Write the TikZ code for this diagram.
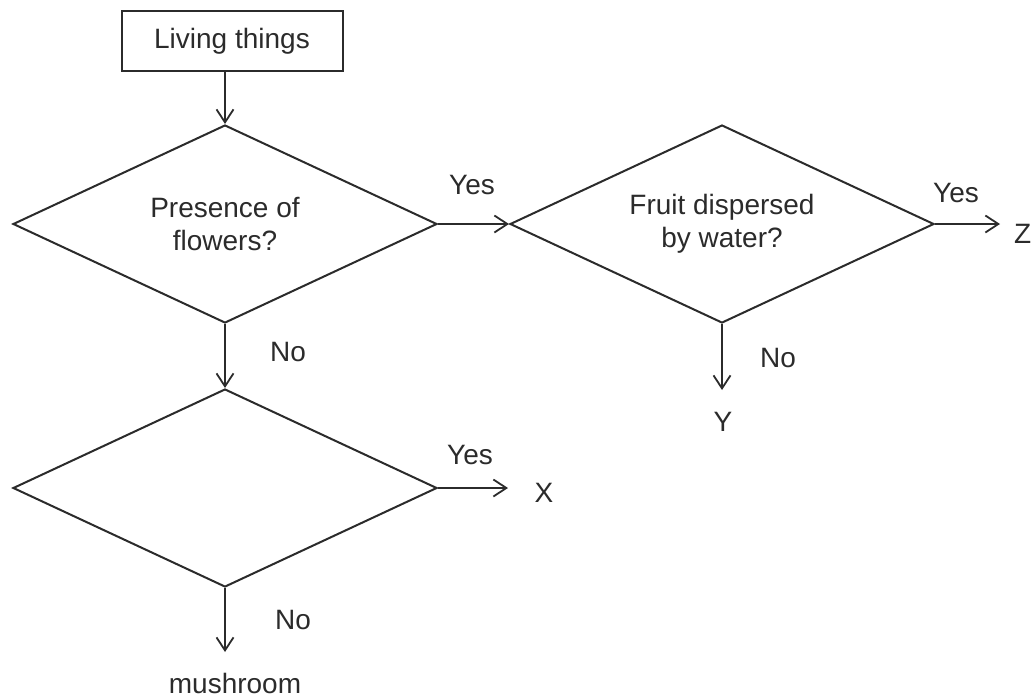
\documentclass[tikz,border=0pt]{standalone}
\usepackage{fontspec}
\setmainfont{Liberation Sans}
\usetikzlibrary{shapes.geometric,arrows.meta}
\definecolor{ink}{HTML}{2B2B2B}

\begin{document}
\begin{tikzpicture}[x=1pt, y=-1pt,
    every node/.style={font=\fontsize{28}{33}\selectfont, text=ink},
    start/.style={draw=ink, line width=2pt, minimum width=221pt, minimum height=60pt, inner sep=0pt},
    decision/.style={diamond, draw=ink, line width=2pt, aspect=2.14, minimum width=424pt, minimum height=198pt, inner sep=0pt, align=center},
    flow/.style={draw=ink, line width=1.8pt, -{Straight Barb[length=13pt,width=17pt]}}]
      \useasboundingbox (0,0) rectangle (1035,699);
      \node[start] (living) at (232,41) {Living things};
      \node[decision] (flowers) at (225,224) {Presence of\\flowers?};
      \node[decision] (water) at (722,224) {Fruit dispersed\\by water?};
      \node[decision] (third) at (225,488) {};
      \coordinate (toZ) at (1000,224);
      \coordinate (toY) at (722,390);
      \coordinate (toX) at (508,488);
      \coordinate (toMush) at (225,652);
      \draw[flow] (living.south -| flowers.north) -- (flowers.north);
      \draw[flow] (flowers.east) -- (water.west);
      \draw[flow] (water.east) -- (toZ);
      \draw[flow] (water.south) -- (toY);
      \draw[flow] (flowers.south) -- (third.north);
      \draw[flow] (third.east) -- (toX);
      \draw[flow] (third.south) -- (toMush);
      \node (yes1) at (472,185) {Yes};
      \node (yes2) at (956,193) {Yes};
      \node (no1)  at (288,352) {No};
      \node (no2)  at (778,358) {No};
      \node (yes3) at (470,455) {Yes};
      \node (no3)  at (293,620) {No};
      \node[anchor=west, inner sep=0pt] (zend) at (1014,234) {Z};
      \node (yend) at (723,422) {Y};
      \node (xend) at (544,493) {X};
      \node (mush) at (235,683) {mushroom};
    \end{tikzpicture}
\end{document}
